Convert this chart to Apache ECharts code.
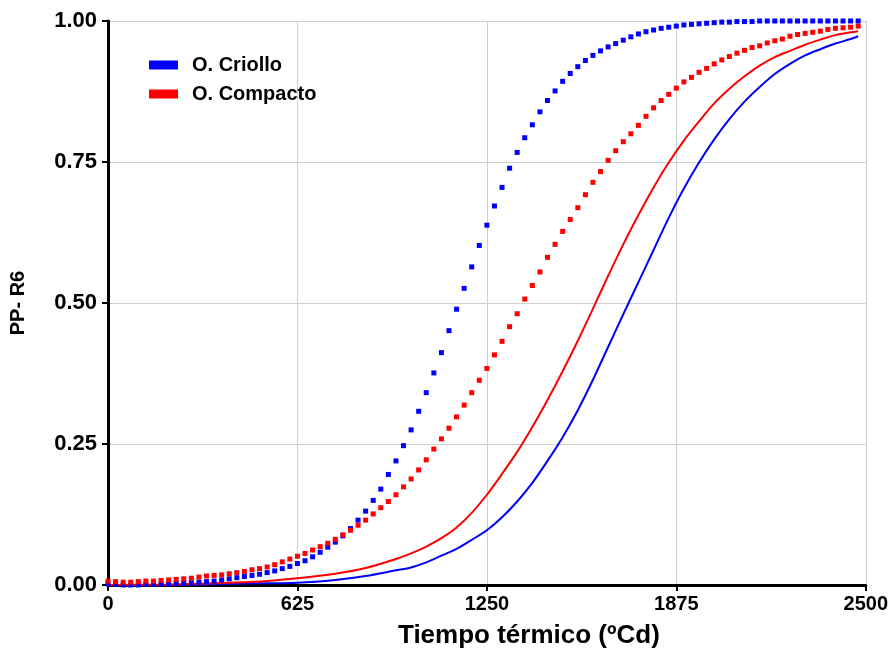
<!DOCTYPE html>
<html>
<head>
<meta charset="utf-8">
<script src="https://cdn.jsdelivr.net/npm/echarts@6/dist/echarts.min.js"></script>
<style>
  html, body { margin: 0; padding: 0; background: #fff; }
  #chart { width: 891px; height: 656px; }
</style>
</head>
<body>
<div id="chart"></div>
<script>
// tiempo termico de los puntos (ºCd)
var puntosT = [0, 25, 50, 75, 100, 125, 150, 175, 200, 225, 250, 275, 300, 325, 350, 375, 400, 425, 450, 475,
  500, 525, 550, 575, 600, 625, 650, 675, 700, 725, 750, 775, 800, 825, 850, 875, 900, 925, 950, 975,
  1000, 1025, 1050, 1075, 1100, 1125, 1150, 1175, 1200, 1225, 1250, 1275, 1300, 1325, 1350, 1375, 1400, 1425, 1450, 1475,
  1500, 1525, 1550, 1575, 1600, 1625, 1650, 1675, 1700, 1725, 1750, 1775, 1800, 1825, 1850, 1875, 1900, 1925, 1950, 1975,
  2000, 2025, 2050, 2075, 2100, 2125, 2150, 2175, 2200, 2225, 2250, 2275, 2300, 2325, 2350, 2375, 2400, 2425, 2450, 2475];

// O. Criollo (puntos azules)
var criolloPuntos = [0.002, 0.001, 0.000, 0.000, 0.000, 0.001, 0.001, 0.002, 0.002, 0.003, 0.004, 0.004, 0.005, 0.006, 0.007, 0.009, 0.011, 0.013, 0.015, 0.017,
  0.019, 0.022, 0.025, 0.029, 0.033, 0.038, 0.043, 0.050, 0.058, 0.067, 0.076, 0.087, 0.100, 0.115, 0.131, 0.150, 0.170, 0.196, 0.220, 0.247,
  0.275, 0.308, 0.341, 0.376, 0.412, 0.451, 0.489, 0.526, 0.564, 0.602, 0.638, 0.672, 0.705, 0.739, 0.767, 0.793, 0.816, 0.839, 0.859, 0.876,
  0.893, 0.907, 0.919, 0.930, 0.939, 0.947, 0.954, 0.960, 0.966, 0.972, 0.977, 0.981, 0.984, 0.987, 0.989, 0.991, 0.993, 0.994, 0.995, 0.996,
  0.997, 0.998, 0.998, 0.999, 0.999, 0.999, 1.000, 1.000, 1.000, 1.000, 1.000, 1.000, 1.000, 1.000, 1.000, 1.000, 1.000, 1.000, 1.000, 1.000];

// O. Compacto (puntos rojos)
var compactoPuntos = [0.007, 0.006, 0.005, 0.005, 0.006, 0.007, 0.007, 0.008, 0.009, 0.010, 0.011, 0.012, 0.014, 0.016, 0.017, 0.018, 0.020, 0.022, 0.024, 0.027,
  0.029, 0.032, 0.036, 0.041, 0.046, 0.051, 0.056, 0.062, 0.068, 0.074, 0.081, 0.089, 0.097, 0.106, 0.115, 0.126, 0.137, 0.148, 0.160, 0.174,
  0.188, 0.204, 0.222, 0.241, 0.259, 0.278, 0.298, 0.319, 0.341, 0.363, 0.384, 0.408, 0.432, 0.458, 0.481, 0.507, 0.531, 0.555, 0.581, 0.604,
  0.627, 0.648, 0.669, 0.692, 0.714, 0.733, 0.753, 0.770, 0.786, 0.800, 0.815, 0.831, 0.846, 0.859, 0.870, 0.881, 0.892, 0.900, 0.909, 0.916,
  0.924, 0.931, 0.937, 0.943, 0.948, 0.953, 0.956, 0.961, 0.965, 0.968, 0.973, 0.976, 0.978, 0.980, 0.982, 0.985, 0.987, 0.988, 0.989, 0.991];

// curvas continuas
var curvaT = [0, 200, 400, 500, 625, 750, 850, 950, 1000, 1050, 1100, 1150, 1200, 1250, 1300, 1350, 1400, 1450, 1500, 1550,
  1600, 1650, 1700, 1750, 1800, 1850, 1900, 1950, 2000, 2050, 2100, 2150, 2200, 2250, 2300, 2350, 2400, 2450, 2475];
var criolloCurva = [0.000, 0.000, 0.002, 0.003, 0.004, 0.009, 0.016, 0.026, 0.031, 0.040, 0.052, 0.064, 0.080, 0.097, 0.120, 0.148, 0.181, 0.220, 0.262, 0.310,
  0.364, 0.422, 0.480, 0.537, 0.594, 0.651, 0.703, 0.749, 0.790, 0.826, 0.857, 0.883, 0.906, 0.924, 0.939, 0.950, 0.960, 0.968, 0.973];
var compactoCurva = [0.000, 0.001, 0.004, 0.006, 0.012, 0.020, 0.030, 0.046, 0.056, 0.068, 0.083, 0.102, 0.128, 0.160, 0.197, 0.236, 0.280, 0.328, 0.379, 0.433,
  0.490, 0.548, 0.604, 0.656, 0.705, 0.749, 0.788, 0.822, 0.854, 0.880, 0.902, 0.921, 0.936, 0.947, 0.958, 0.967, 0.975, 0.980, 0.982];

var xTicks = [0, 625, 1250, 1875, 2500];
var yTicks = [0, 0.25, 0.5, 0.75, 1];

function pares(xs, ys) {
  var out = [];
  for (var i = 0; i < xs.length; i++) out.push([xs[i], ys[i]]);
  return out;
}

var AZUL = '#0000ff';
var ROJO = '#ff0000';
var fuente = 'Arial, "Liberation Sans", sans-serif';

var myChart = echarts.init(document.getElementById('chart'));
var option = {
  animation: false,
  backgroundColor: '#ffffff',
  grid: { left: 108, right: 25, top: 21, bottom: 71, containLabel: false },
  legend: {
    orient: 'vertical',
    left: 149,
    top: 55,
    padding: 0,
    itemWidth: 29,
    itemHeight: 9,
    itemGap: 9,
    textStyle: { fontFamily: fuente, fontWeight: 'bold', fontSize: 20, color: '#000', padding: [0, 0, 0, 9] },
    data: [
      { name: 'O. Criollo', icon: 'rect', itemStyle: { color: AZUL } },
      { name: 'O. Compacto', icon: 'rect', itemStyle: { color: ROJO } }
    ]
  },
  xAxis: {
    type: 'value',
    min: xTicks[0],
    max: xTicks[xTicks.length - 1],
    interval: 625,
    name: 'Tiempo térmico (ºCd)',
    nameLocation: 'middle',
    nameGap: 38,
    nameTextStyle: { fontFamily: fuente, fontWeight: 'bold', fontSize: 26, color: '#000', padding: [0, 0, 0, 84] },
    axisLine: { onZero: false, lineStyle: { color: '#000', width: 3 } },
    axisTick: { show: true, length: 6, lineStyle: { color: '#000', width: 2 } },
    axisLabel: {
      margin: 9, fontFamily: fuente, fontWeight: 'bold', fontSize: 20, color: '#000',
      formatter: function (v) { return String(v); }
    },
    splitLine: { show: true, lineStyle: { color: '#cfcfcf', width: 1 } }
  },
  yAxis: {
    type: 'value',
    min: yTicks[0],
    max: yTicks[yTicks.length - 1],
    interval: 0.25,
    name: 'PP- R6',
    nameLocation: 'middle',
    nameRotate: 90,
    nameGap: 80,
    nameTextStyle: { fontFamily: fuente, fontWeight: 'bold', fontSize: 20, color: '#000' },
    axisLine: { onZero: false, lineStyle: { color: '#000', width: 3 } },
    axisTick: { show: true, length: 6, lineStyle: { color: '#000', width: 2 } },
    axisLabel: {
      margin: 11, fontFamily: fuente, fontWeight: 'bold', fontSize: 22, color: '#000',
      formatter: function (v) { return v.toFixed(2); }
    },
    splitLine: { show: true, lineStyle: { color: '#cfcfcf', width: 1 } }
  },
  series: [
    {
      name: 'O. Criollo', type: 'line', data: pares(curvaT, criolloCurva),
      smooth: 0.3, showSymbol: false, symbol: 'none',
      lineStyle: { color: AZUL, width: 2 }, itemStyle: { color: AZUL }, z: 2
    },
    {
      name: 'O. Compacto', type: 'line', data: pares(curvaT, compactoCurva),
      smooth: 0.3, showSymbol: false, symbol: 'none',
      lineStyle: { color: ROJO, width: 2 }, itemStyle: { color: ROJO }, z: 2
    },
    {
      name: 'O. Criollo', type: 'scatter', data: pares(puntosT, criolloPuntos),
      symbol: 'rect', symbolSize: 5, itemStyle: { color: AZUL, opacity: 1 }, z: 3
    },
    {
      name: 'O. Compacto', type: 'scatter', data: pares(puntosT, compactoPuntos),
      symbol: 'rect', symbolSize: 5, itemStyle: { color: ROJO, opacity: 1 }, z: 3
    }
  ]
};
myChart.setOption(option);
</script>
</body>
</html>
